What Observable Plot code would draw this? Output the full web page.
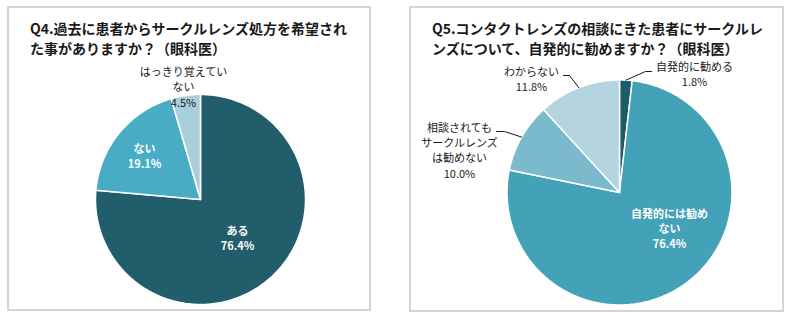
<!DOCTYPE html>
<html><head><meta charset="utf-8">
<script src="https://cdn.jsdelivr.net/npm/d3@7"></script>
<script src="https://cdn.jsdelivr.net/npm/@observablehq/plot@0.6"></script>
<style>
body{margin:0;background:#fff;width:792px;height:321px;position:relative;overflow:hidden;font-family:"Noto Sans CJK JP",sans-serif}
#chart{position:absolute;left:0;top:0}
.panel{position:absolute;border:2px solid #d4d4d4;box-sizing:border-box}
.title{position:absolute;font-weight:bold;font-size:14px;line-height:20px;color:#1a1a1a;white-space:nowrap;letter-spacing:0}
</style></head><body>
<div id="chart"></div>
<div class="panel" style="left:7px;top:6px;width:364px;height:305px"></div>
<div class="panel" style="left:409px;top:6px;width:375px;height:306px"></div>
<div class="title" style="left:30px;top:18px">Q4.過去に患者からサークルレンズ処方を希望され<br>た事がありますか？（眼科医）</div>
<div class="title" style="left:432px;top:18px">Q5.コンタクトレンズの相談にきた患者にサークルレ<br>ンズについて、自発的に勧めますか？（眼科医）</div>
<script>
// ---- data ----
const q4Categories = ["ある", "ない", "はっきり覚えていない"];
const q4Values = [76.4, 19.1, 4.5];
const q4LabelText = ["ある\n76.4%", "ない\n19.1%", "はっきり覚えてい\nない\n4.5%"];

const q5Categories = ["自発的に勧める", "自発的には勧めない", "相談されてもサークルレンズは勧めない", "わからない"];
const q5Values = [1.8, 76.4, 10.0, 11.8];
const q5LabelText = ["自発的に勧める\n1.8%", "自発的には勧め\nない\n76.4%", "相談されても\nサークルレンズ\nは勧めない\n10.0%", "わからない\n11.8%"];

// ---- styles / layout ----
const q4Colors = ["#215d6b", "#48acc6", "#a9cfdc"];
const q5Colors = ["#1f5c6a", "#43a1b8", "#7bb9cc", "#b4d5e0"];
const q4Layout = {cx: 200, cy: 199, r: 105};
const q5Layout = {cx: 619, cy: 192, r: 112.5};
// label centre offsets from pie centre
const q4LabelOffset = [[37, 38], [-56, -44], [-17, -113]];
const q4LabelInside = [true, true, false];
const q5LabelOffset = [[75, -119], [50, 35.5], [-160, -42.5], [-88, -114]];
const q5LabelInside = [false, true, false, false];
// leader line: elbow and end offsets (null = none)
const q5Leader = [[[26, -121], [32, -121]], null, [[-115, -61], [-123, -61]], [[-50, -117], [-56, -117]]];

function slicePolys(name, values, colors, L) {
  const total = d3.sum(values);
  const pts = [];
  const mids = [];
  let acc = 0;
  values.forEach((v, i) => {
    const a0 = acc / total * 2 * Math.PI;
    acc += v;
    const a1 = acc / total * 2 * Math.PI;
    mids.push((a0 + a1) / 2);
    const key = name + i;
    pts.push({key, x: L.cx, y: L.cy, color: colors[i]});
    const n = Math.max(2, Math.ceil((a1 - a0) / (Math.PI / 180)));
    for (let k = 0; k <= n; k++) {
      const a = a0 + (a1 - a0) * k / n;
      pts.push({key, x: L.cx + L.r * Math.sin(a), y: L.cy - L.r * Math.cos(a), color: colors[i]});
    }
    pts.push({key, x: L.cx, y: L.cy, color: colors[i]});
  });
  return {pts, mids};
}

const p4 = slicePolys("q4", q4Values, q4Colors, q4Layout);
const p5 = slicePolys("q5", q5Values, q5Colors, q5Layout);

const labels = [];
q4LabelText.forEach((t, i) => labels.push({text: t, inside: q4LabelInside[i],
  x: q4Layout.cx + q4LabelOffset[i][0], y: q4Layout.cy + q4LabelOffset[i][1]}));
q5LabelText.forEach((t, i) => labels.push({text: t, inside: q5LabelInside[i],
  x: q5Layout.cx + q5LabelOffset[i][0], y: q5Layout.cy + q5LabelOffset[i][1]}));

const leaders = [];
q5Leader.forEach((ld, i) => {
  if (!ld) return;
  const a = p5.mids[i];
  const L = q5Layout;
  leaders.push({key: "l" + i, x: L.cx + L.r * Math.sin(a), y: L.cy - L.r * Math.cos(a)});
  ld.forEach(o => leaders.push({key: "l" + i, x: L.cx + o[0], y: L.cy + o[1]}));
});

const chart = Plot.plot({
  width: 792, height: 321, margin: 0,
  x: {domain: [0, 792], range: [0, 792], axis: null},
  y: {domain: [0, 321], range: [0, 321], axis: null},
  color: {type: "identity"},
  style: {background: "none", fontFamily: "'Noto Sans CJK JP', sans-serif", overflow: "visible"},
  marks: [
    Plot.line(p4.pts.concat(p5.pts), {x: "x", y: "y", z: "key", fill: "color", stroke: "#ffffff", strokeWidth: 1.5, strokeLinejoin: "round"}),
    Plot.line(leaders, {x: "x", y: "y", z: "key", stroke: "#1a1a1a", strokeWidth: 1}),
    Plot.text(labels.filter(d => d.inside), {x: "x", y: "y", text: "text", fill: "#ffffff", fontWeight: "bold", fontSize: 11, lineHeight: 1.38}),
    Plot.text(labels.filter(d => !d.inside), {x: "x", y: "y", text: "text", fill: "#1a1a1a", fontSize: 11, lineHeight: 1.38})
  ]
});
document.getElementById("chart").appendChild(chart);
</script>
</body></html>
